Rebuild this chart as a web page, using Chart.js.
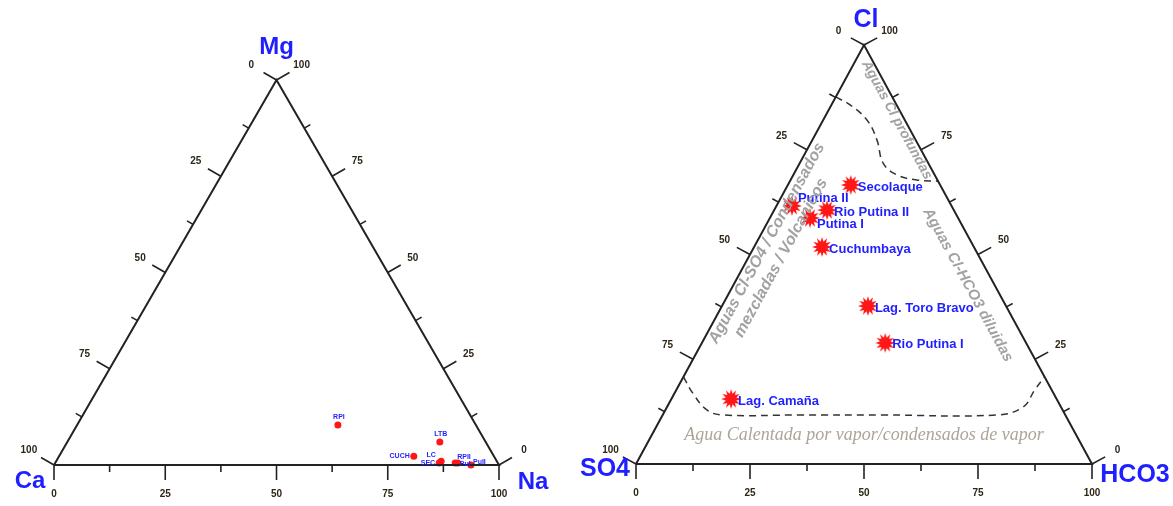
<!DOCTYPE html>
<html>
<head>
<meta charset="utf-8">
<script src="https://cdn.jsdelivr.net/npm/chart.js@4.4.1/dist/chart.umd.min.js"></script>
<style>
  body { margin: 0; background: #fff; width: 1173px; height: 506px; overflow: hidden; position: relative; }
  canvas { position: absolute; top: 0; }
  #cation { left: 0; }
  #anion { left: 560px; }
</style>
</head>
<body>
<canvas id="cation" width="580" height="506"></canvas>
<canvas id="anion" width="613" height="506"></canvas>
<script>
// Cation triangle (Ca - Mg - Na, %)
const cationNames = ["RPI", "LTB", "CUCH", "LC", "SEC", "RPII", "PuI", "PuII"];
const cationCa = [31.0, 10.3, 18.0, 12.5, 13.2, 9.6, 9.0, 6.3];
const cationMg = [10.4, 6.0, 2.3, 1.0, 0.5, 0.5, 0.5, 0.0];
const cationNa = [58.6, 83.7, 79.7, 86.5, 86.3, 89.9, 90.5, 93.7];

// Anion triangle (SO4 - Cl - HCO3, %)
const anionNames = ["Secolaque", "Putina II", "Rio Putina II", "Putina I", "Cuchumbaya", "Lag. Toro Bravo", "Rio Putina I", "Lag. Camaña"];
const anionSO4 = [19.6, 35.0, 27.8, 32.5, 33.3, 30.3, 30.9, 71.4];
const anionCl = [66.6, 61.6, 60.6, 58.7, 51.8, 37.7, 28.9, 15.5];
const anionHCO3 = [13.8, 3.4, 11.6, 8.8, 14.9, 32.0, 40.2, 13.1];

// dashed field boundaries on the anion triangle
const deepFieldHCO3 = [0, 4.1, 9.6, 14.2, 18.3, 22.7, 27.7, 32.5];
const deepFieldCl = [87.6, 85.7, 82.1, 77.3, 71.8, 69.0, 67.8, 67.5];
const steamFieldHCO3 = [0, 4.0, 9.1, 13.2, 30.1, 48.3, 73.3, 78.1, 78.6, 79.2];
const steamFieldCl = [20.8, 16.9, 12.9, 11.7, 11.7, 11.7, 11.7, 13.6, 17.7, 20.8];

// axis ticks
const tickSteps = [0, 12.5, 25, 37.5, 50, 62.5, 75, 87.5, 100];
const tickLabels = [0, 25, 50, 75, 100];

// ternary -> cartesian: right corner component + half of top component
const toXY = (right, top) => ({ x: right + top / 2, y: top });
const outline = [toXY(0, 0), toXY(100, 0), toXY(0, 100), toXY(0, 0)];

const blue = "#1f1fff";
const red = "#ff1616";

function burst(r) {
  const c = document.createElement("canvas");
  c.width = c.height = 2 * r + 2;
  const g = c.getContext("2d");
  g.translate(r + 1, r + 1);
  g.beginPath();
  const n = 12;
  for (let i = 0; i < 2 * n; i++) {
    const a = i * Math.PI / n;
    const rr = i % 2 ? r * 0.55 : r;
    g.lineTo(rr * Math.cos(a), rr * Math.sin(a));
  }
  g.closePath();
  g.fillStyle = red;
  g.fill();
  return c;
}

// draws ticks, numbers, corner names, point names and field captions
const ternaryDecor = {
  id: "ternaryDecor",
  afterDatasetsDraw(chart, args, o) {
    const ctx = chart.ctx;
    const xs = chart.scales.x, ys = chart.scales.y;
    const px = p => [xs.getPixelForValue(p.x), ys.getPixelForValue(p.y)];
    const L = px(toXY(0, 0)), R = px(toXY(100, 0)), T = px(toXY(0, 100));
    const unit = (a, b) => { const dx = b[0] - a[0], dy = b[1] - a[1], d = Math.hypot(dx, dy); return [dx / d, dy / d]; };
    const eL = unit(L, T), eR = unit(R, T);
    const edges = [
      { at: v => px(toXY(v, 0)), n: [0, 1] },                 // bottom: right-corner %
      { at: v => px(toXY(0, 100 - v)), n: [eL[1], -eL[0]] },  // left side: left-corner %
      { at: v => px(toXY(100 - v, v)), n: [-eR[1], eR[0]] }   // right side: top %
    ];
    ctx.save();
    ctx.strokeStyle = "#222";
    ctx.lineWidth = 1.6;
    ctx.fillStyle = "#2e2618";
    ctx.font = "bold 10px Arial";
    ctx.textAlign = "center";
    ctx.textBaseline = "middle";
    edges.forEach(e => {
      tickSteps.forEach(v => {
        const p = e.at(v);
        const len = tickLabels.includes(v) ? 15 : 7;
        ctx.beginPath();
        ctx.moveTo(p[0], p[1]);
        ctx.lineTo(p[0] + e.n[0] * len, p[1] + e.n[1] * len);
        ctx.stroke();
      });
      tickLabels.forEach(v => {
        const p = e.at(v);
        ctx.fillText(String(v), p[0] + e.n[0] * 29, p[1] + e.n[1] * 29);
      });
    });

    // corner names
    ctx.fillStyle = blue;
    ctx.font = o.cornerFont;
    [L, R, T].forEach((p, i) => {
      const c = o.corners[i];
      ctx.fillText(c.text, p[0] + c.dx, p[1] + c.dy);
    });

    // point names
    const ds = chart.data.datasets.find(d => d.names);
    const meta = chart.getDatasetMeta(chart.data.datasets.indexOf(ds));
    ctx.font = o.nameFont;
    ds.names.forEach((name, i) => {
      const el = meta.data[i];
      const s = o.spots[ds.spots[i]];
      ctx.textAlign = s[2];
      ctx.fillText(name, el.x + s[0], el.y + s[1]);
    });

    // field captions
    (o.captions || []).forEach(c => {
      const p = px({ x: c.x, y: c.y });
      ctx.save();
      ctx.translate(p[0], p[1]);
      const e = c.side === "left" ? eL : c.side === "right" ? [-eR[0], -eR[1]] : [1, 0];
      ctx.rotate(Math.atan2(e[1], e[0]));
      ctx.font = c.font;
      ctx.fillStyle = c.color;
      ctx.textAlign = "center";
      ctx.fillText(c.text, 0, 0);
      ctx.restore();
    });
    ctx.restore();
  }
};

function baseOptions(padding, decor) {
  return {
    responsive: false,
    animation: false,
    layout: { padding },
    scales: {
      x: { type: "linear", min: 0, max: 100, display: false },
      y: { type: "linear", min: 0, max: 100, display: false }
    },
    plugins: { legend: { display: false }, tooltip: { enabled: false }, ternaryDecor: decor }
  };
}

const frame = {
  showLine: true, borderColor: "#222", borderWidth: 2,
  pointRadius: 0, tension: 0, clip: false
};

new Chart(document.getElementById("cation"), {
  type: "scatter",
  data: {
    datasets: [
      { ...frame, data: outline.slice() },
      {
        data: cationNames.map((n, i) => toXY(cationNa[i], cationMg[i])),
        names: cationNames,
        spots: ["above", "above", "left", "upLeft", "left", "upRight", "right", "right2"],
        pointStyle: "circle", pointRadius: 3.5, backgroundColor: red, borderWidth: 0, clip: false
      }
    ]
  },
  options: baseOptions({ left: 54, right: 81, top: 80, bottom: 41 }, {
    cornerFont: "bold 24px Arial",
    corners: [{ text: "Ca", dx: -24, dy: 16 }, { text: "Na", dx: 34, dy: 17 }, { text: "Mg", dx: 0, dy: -33 }],
    nameFont: "bold 7px Arial",
    spots: {
      above: [1, -8, "center"], left: [-4, 0, "right"], upLeft: [-10, -6, "center"],
      upRight: [2, -6, "left"], right: [2, 1, "left"], right2: [2, -3, "left"]
    }
  }),
  plugins: [ternaryDecor]
});

const capGray = "#a2a2a2";
new Chart(document.getElementById("anion"), {
  type: "scatter",
  data: {
    datasets: [
      { ...frame, data: outline.slice() },
      {
        data: deepFieldHCO3.map((h, i) => toXY(h, deepFieldCl[i])),
        showLine: true, borderColor: "#333", borderWidth: 1.5, borderDash: [7, 5],
        pointRadius: 0, tension: 0.4, clip: false
      },
      {
        data: steamFieldHCO3.map((h, i) => toXY(h, steamFieldCl[i])),
        showLine: true, borderColor: "#333", borderWidth: 1.5, borderDash: [7, 5],
        pointRadius: 0, tension: 0.4, clip: false
      },
      {
        data: anionNames.map((n, i) => toXY(anionHCO3[i], anionCl[i])),
        names: anionNames,
        spots: ["right", "upRight", "right", "downRight", "right", "right", "right", "right"],
        pointStyle: burst(10), clip: false
      }
    ]
  },
  options: baseOptions({ left: 76, right: 81, top: 45, bottom: 42 }, {
    cornerFont: "bold 25px Arial",
    corners: [{ text: "SO4", dx: -31, dy: 5 }, { text: "HCO3", dx: 43, dy: 11 }, { text: "Cl", dx: 2, dy: -25 }],
    nameFont: "bold 13px Arial",
    spots: {
      right: [7, 2, "left"], upRight: [6, -7, "left"], downRight: [7, 6, "left"]
    },
    captions: [
      { text: "Aguas Cl profundas", x: 57.2, y: 82.1, side: "right", font: "bold italic 14px Arial", color: capGray },
      { text: "Aguas Cl-HCO3 diluidas", x: 72.8, y: 42.7, side: "right", font: "bold italic 15px Arial", color: capGray },
      { text: "Aguas Cl-SO4 / Condensados", x: 28.7, y: 52.7, side: "left", font: "bold italic 16px Arial", color: capGray },
      { text: "mezcladas / Volcanicos", x: 31.8, y: 49.2, side: "left", font: "bold italic 16px Arial", color: capGray },
      { text: "Agua Calentada por vapor/condensados de vapor", x: 50, y: 6.9, side: "bottom", font: "italic 18px 'Liberation Serif'", color: "#aca598" }
    ]
  }),
  plugins: [ternaryDecor]
});
</script>
</body>
</html>
